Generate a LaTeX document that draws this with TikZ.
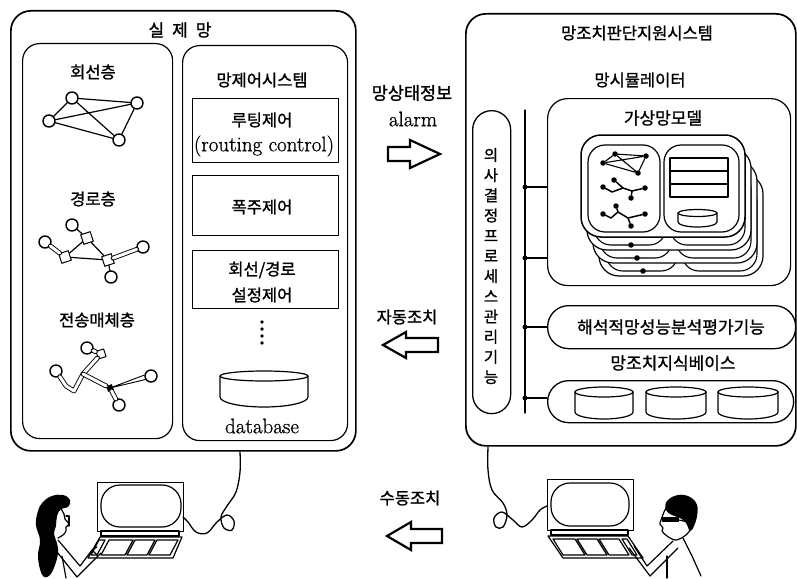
\documentclass[tikz,border=0pt]{standalone}
\usepackage{fontspec}
\setmainfont{Latin Modern Roman}[FakeBold=0.9]
\newfontfamily\kr{Noto Sans CJK KR}[FakeBold=1.2]
\usetikzlibrary{calc}
\newcommand\krsz[1]{\kr\fontsize{#1}{#1}\selectfont}
\newcommand\latsz[1]{\fontsize{#1}{#1}\selectfont}
% drum: name, centre x, top y, half width, side height, top radius, bottom radius
\newcommand\drum[7]{%
  \coordinate (#1) at (#2,#3);
  \draw[line width=1.2pt,fill=white] ($(#1)+(-#4,0)$) -- ++(0,#5)
     arc[start angle=180,end angle=360,x radius=#4pt,y radius=#7pt] -- ($(#1)+(#4,0)$);
  \draw[line width=1.2pt] (#1) ellipse[x radius=#4pt,y radius=#6pt];
}
\begin{document}
\begin{tikzpicture}[x=1pt,y=-1pt,line join=round,line cap=round,
  frame/.style={draw,line width=1.7pt,rounded corners=20pt,anchor=north west,inner sep=0pt},
  panel/.style={draw,line width=1.2pt,rounded corners=17pt,anchor=north west,inner sep=0pt},
  ctlbox/.style={draw,line width=1.1pt,anchor=north west,inner sep=0pt},
  pill/.style={draw,line width=1.3pt,anchor=north west,inner sep=0pt},
  lbl/.style={inner sep=0pt,font=\krsz{16.5}},
  latin/.style={inner sep=0pt,font=\latsz{21}},
  gnode/.style={circle,draw,line width=1.4pt,minimum size=12pt,inner sep=0pt,fill=white},
  gsq/.style={rectangle,draw,line width=1pt,minimum size=10pt,inner sep=0pt,rotate=18,fill=white},
  gedge/.style={line width=1.2pt},
  tube/.style={line width=0.9pt,double=white,double distance=3pt},
  jdot/.style={circle,fill,minimum size=5pt,inner sep=0pt},
  mdot/.style={circle,fill,minimum size=5.5pt,inner sep=0pt},
  medge/.style={line width=1.5pt},
  blockarrow/.style={draw,line width=2.2pt,line join=miter,fill=white},
  bus/.style={line width=1.1pt},
  cable/.style={line width=1.3pt},
  sketch/.style={line width=1.2pt},
]
\useasboundingbox (0,0) rectangle (797,578);

% ---------------- real network ----------------
\node[frame,minimum width=345pt,minimum height=440pt] (real) at (10,10) {};
\node[lbl,font=\krsz{17}] (realT) at (180,30) {실\hspace{8pt}제\hspace{8pt}망};
\node[panel,minimum width=150pt,minimum height=395pt] (layers) at (22,43) {};
\node[panel,minimum width=165pt,minimum height=395pt] (ctrl) at (182,45) {};

% layer titles
\node[lbl] (l1) at (93,72) {회선층};
\node[lbl] (l2) at (93,199) {경로층};
\node[lbl] (l3) at (97,320) {전송매체층};

% circuit layer graph
\node[gnode] (ga) at (72,98) {};
\node[gnode] (gb) at (137,103) {};
\node[gnode] (gc) at (49,121) {};
\node[gnode] (gd) at (119,140) {};
\draw[gedge] (ga)--(gb) (ga)--(gc) (gc)--(gb) (gc)--(gd) (ga)--(gd) (gb)--(gd);

% path layer graph
\node[gsq] (sa) at (87,238) {};
\node[gsq] (sb) at (65,257) {};
\node[gsq] (sc) at (108,260) {};
\node[gnode] (pa) at (72,225) {};
\node[gnode] (pb) at (45,242) {};
\node[gnode] (pc) at (143,247) {};
\node[gnode] (pd) at (111,277) {};
\draw[tube] (pb) -- (sb);
\draw[tube] (sc) -- (pc);
\draw[gedge] (sb)--(sa) (sa)--(sc) (sb)--(sc) (pa)--(sa) (sc)--(pd);

% transmission media layer graph
\node[gnode] (ta) at (87,348) {};
\node[gnode] (tb) at (56,371) {};
\node[gnode] (tc) at (151,376) {};
\node[gnode] (td) at (119,405) {};
\node[gsq,minimum size=8pt] (tq) at (101,354) {};
\node[fill,minimum size=6pt,inner sep=0pt,rotate=20] (tj) at (110,388) {};
\coordinate (tk) at (83,374);
\draw[tube] (ta) -- (tq);
\draw[tube] (tb) -- (66,386) -- (74,391) -- (tk) -- (tq);
\draw[tube] (tk) -- (tj);
\draw[line width=0.9pt] (tj.center) -- (tc.172) (tj.center) -- (tc.212);
\draw[tube] (tj) -- (td);

% network control system
\node[lbl] (ctrlT) at (262,80) {망제어시스템};
\node[ctlbox,minimum width=146pt,minimum height=64pt] (routing) at (192,98) {};
\node[lbl] (routingA) at (262,120) {루팅제어};
\node[latin] (routingB) at (264,146) {(routing control)};
\node[ctlbox,minimum width=146pt,minimum height=60pt] (congest) at (192,175) {};
\node[lbl] (congestT) at (262,207) {폭주제어};
\node[ctlbox,minimum width=146pt,minimum height=58pt] (setup) at (192,250) {};
\node[lbl] (setupA) at (262,270) {회선/경로};
\node[lbl] (setupB) at (262,295) {설정제어};
\foreach \yy in {322,329,336,343} \fill (262,\yy) circle[radius=1.8pt];
\drum{db}{264}{376}{44}{21}{5}{10}
\node[latin] (dbT) at (262,426) {database};

% ---------------- arrows between the systems ----------------
\node[lbl,font=\krsz{17.5}] (stateT) at (412,93) {망상태정보};
\node[latin] (alarmT) at (413,119) {alarm};
\draw[blockarrow] (388,147) -- (410,147) -- (410,140) -- (440,154) -- (410,168) -- (410,161) -- (388,161) -- cycle;
\node[lbl] (autoT) at (407,317) {자동조치};
\draw[blockarrow] (438,338) -- (406,338) -- (406,332) -- (383,345) -- (406,358) -- (406,352) -- (438,352) -- cycle;
\node[lbl] (manT) at (410,498) {수동조치};
\draw[blockarrow] (442,529) -- (411,529) -- (411,522) -- (387,536) -- (411,550) -- (411,543) -- (442,543) -- cycle;

% ---------------- decision support system ----------------
\node[frame,minimum width=330pt,minimum height=432pt] (dss) at (465,13) {};
\node[lbl] (dssT) at (637,33) {망조치판단지원시스템};
\node[lbl] (simT) at (640,80) {망시뮬레이터};
\node[panel,rounded corners=20pt,minimum width=243pt,minimum height=187pt] (vmodel) at (547,98) {};
\node[lbl,font=\krsz{17}] (vmodelT) at (663,118) {가상망모델};

% decision process pill with vertical caption
\node[pill,rounded corners=19pt,minimum width=38pt,minimum height=303pt] (dp) at (472,110) {};
\node[inner sep=0pt,align=center,font={\kr\fontsize{15.5}{20.2}\selectfont}] (dpT) at (491,266)
  {의\\사\\결\\정\\프\\로\\세\\스\\관\\리\\기\\능};

% bus
\coordinate (busT) at (525,110);
\coordinate (busB) at (525,413);
\coordinate (j1) at (525,187);
\coordinate (j2) at (525,258);
\coordinate (j3) at (525,327);
\coordinate (j4) at (525,398);
\draw[bus] (busT) -- (busB);

% analysis function and knowledge base
\node[pill,rounded corners=21pt,minimum width=248pt,minimum height=43pt] (ana) at (547,305) {};
\node[lbl,font=\krsz{17}] (anaT) at (671,327) {해석적망성능분석평가기능};
\node[lbl,font=\krsz{17}] (kbT) at (673,363) {망조치지식베이스};
\node[pill,rounded corners=21pt,minimum width=246pt,minimum height=42pt] (kb) at (547,380) {};
\drum{kba}{604}{392}{29}{20}{5}{7}
\drum{kbb}{676}{392}{30}{20}{5}{7}
\drum{kbc}{748}{392}{30}{20}{5}{7}

\draw[bus] (j1) -- (j1 -| vmodel.west);
\draw[bus] (j2) -- (j2 -| vmodel.west);
\draw[bus] (j3) -- (j3 -| ana.west);
\draw[bus] (j4) -- (j4 -| kb.west);
\foreach \j in {j1,j2,j3,j4} \node[jdot] at (\j) {};

% stack of virtual network model cards
\foreach \k in {3,2,1} {
  \begin{scope}[shift={({6*\k},{13*\k})}]
    \draw[fill=white,line width=1.2pt,rounded corners=20pt] (581,135) rectangle (745,237);
    \draw[fill=white,line width=1.1pt,rounded corners=17pt] (588,145) rectangle (660,232);
    \draw[fill=white,line width=1.1pt,rounded corners=17pt] (664,145) rectangle (739,232);
    \fill (625,232) circle[radius=2.8pt];
  \end{scope}
}
\draw[fill=white,line width=1.5pt,rounded corners=20pt] (581,135) rectangle (745,237);
\draw[fill=white,line width=1.2pt,rounded corners=17pt] (588,145) rectangle (660,232);
\draw[fill=white,line width=1.2pt,rounded corners=17pt] (664,145) rectangle (739,232);
% tables and store on the front card
\draw[line width=1.3pt] (670,158) rectangle (728,197) (670,171) -- (728,171) (670,184) -- (728,184);
\drum{cardDb}{697.5}{213}{19.5}{9}{3.5}{5}
% mini graphs on the front card
\node[mdot] (ma) at (615,154) {};
\node[mdot] (mb) at (646,156) {};
\node[mdot] (mc) at (603,163) {};
\node[mdot] (md) at (638,173) {};
\draw[line width=1.1pt] (ma)--(mb) (ma)--(mc) (mc)--(mb) (mc)--(md) (ma)--(md) (mb)--(md);
\node[mdot] (na) at (614,180) {};
\node[mdot] (nb) at (603,187) {};
\node[mdot] (nc) at (645,188) {};
\node[mdot] (nd) at (631,198) {};
\draw[medge] (nb) -- (612,192) -- (623,188) -- (na) (623,188) -- (632,191) -- (nc) (632,191) -- (nd);
\node[mdot] (oa) at (616,206) {};
\node[mdot] (ob) at (603,214) {};
\node[mdot] (oc) at (645,214) {};
\node[mdot] (od) at (631,226) {};
\draw[medge] (ob) -- (611,218) -- (618,212) -- (oa) (618,212) -- (628,218) -- (oc) (628,218) -- (od);

% ---------------- operator terminals ----------------
% left terminal
\node[draw,line width=1.2pt,minimum width=86pt,minimum height=49pt,anchor=north west,inner sep=0pt] (monL) at (97,482) {};
\draw[line width=1.2pt,rounded corners=19pt] (101,485) rectangle (181,527);
\draw[sketch] (101,531) rectangle (179,536);
\draw[sketch] (100,537) -- (182,537) -- (173,558) -- (88,558) -- cycle;
\draw[sketch] (99,540) -- (105,540) -- (97,555) -- (91,555) -- cycle
  (109,540) -- (133,540) -- (125,555) -- (101,555) -- cycle
  (135,540) -- (155,540) -- (147,555) -- (127,555) -- cycle
  (157,540) -- (178,540) -- (170,555) -- (149,555) -- cycle;
\draw[cable] plot[smooth,tension=0.6] coordinates {(240,452) (240,472) (236,492) (227,506) (221,517) (224,528) (232,530) (234,521) (227,515) (217,522) (207,533) (196,532) (188,522) (183,517)};

% left operator
\fill plot[smooth cycle,tension=0.7] coordinates {(43,502) (52,496) (63,495) (70,500) (68,507) (61,509) (57,516) (56,526) (54,534) (57,543) (58,553) (55,565) (50,575) (44,577) (40,569) (38,555) (40,540) (36,525) (38,511)};
\draw[sketch] plot[smooth,tension=0.6] coordinates {(61,509) (64,514) (65,519) (69,524) (66,527) (66,531) (63,535) (58,538)};
\draw[sketch] (66,516) -- (69,516) -- (69,526);
\draw[sketch] (58,540) -- (80,566) -- (92,550) -- (97,547);
\draw[sketch] (53,547) -- (77,577) -- (98,556) -- (101,553);
\draw[sketch] (62,556) -- (66,578);
\draw[sketch] (92,550) -- (98,556);

% right terminal
\node[draw,line width=1.2pt,minimum width=86pt,minimum height=51pt,anchor=north west,inner sep=0pt] (monR) at (547,479) {};
\draw[line width=1.2pt,rounded corners=19pt] (551,483) rectangle (629,526);
\draw[sketch] (551,530) rectangle (628,535);
\draw[sketch] (548,536) -- (628,536) -- (643,558) -- (563,558) -- cycle;
\draw[sketch] (553,539) -- (575,539) -- (585,555) -- (563,555) -- cycle
  (577,539) -- (597,539) -- (607,555) -- (587,555) -- cycle
  (599,539) -- (619,539) -- (629,555) -- (609,555) -- cycle
  (622,539) -- (627,539) -- (637,555) -- (632,555) -- cycle;
\draw[cable] plot[smooth,tension=0.6] coordinates {(488,447) (488,470) (492,490) (503,503) (507,515) (503,527) (496,527) (494,518) (502,512) (513,520) (522,527) (532,520) (540,510) (547,506)};

% right operator
\fill plot[smooth cycle,tension=0.7] coordinates {(667,501) (678,495) (690,497) (697,505) (697,516) (694,526) (690,531) (686,523) (680,518) (672,515) (666,510)};
\fill (662,517) rectangle (679,522);
\draw[sketch] (679,520) -- (688,522);
\draw[sketch] plot[smooth,tension=0.6] coordinates {(667,506) (664,512) (661,520) (660,524) (663,528) (662,531) (667,536) (676,540) (686,535) (690,530)};
\draw[sketch] (683,538) -- (692,556) -- (701,576);
\draw[sketch] (673,541) -- (647,566) -- (634,546);
\draw[sketch] (678,548) -- (650,576) -- (629,548);
\draw[sketch] (667,556) -- (667,578);
\end{tikzpicture}
\end{document}
